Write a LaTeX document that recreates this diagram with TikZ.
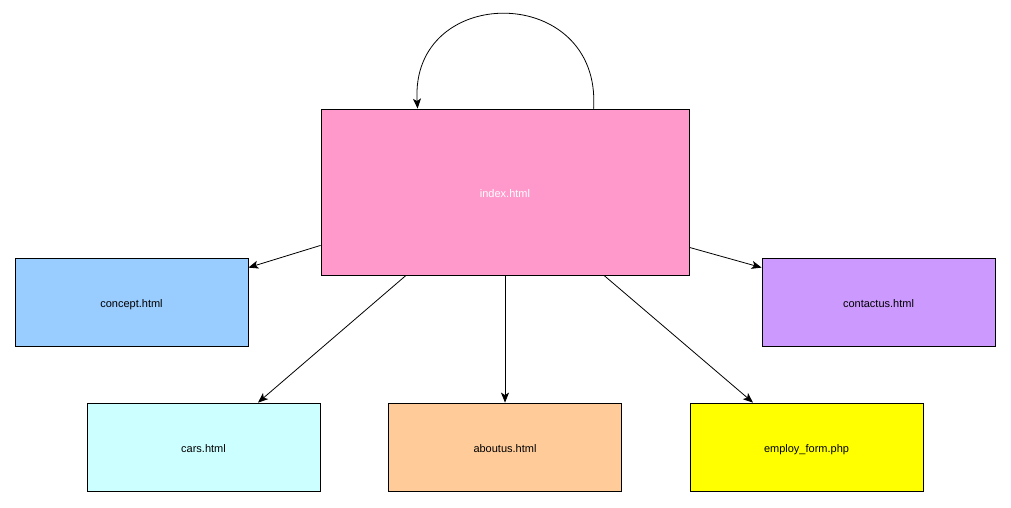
\documentclass[tikz,border=0pt]{standalone}
\usepackage{fontspec}
\setmainfont{Liberation Sans}
\usetikzlibrary{arrows.meta}
\definecolor{pagepink}{HTML}{FF99CC}
\definecolor{pageblue}{HTML}{99CCFF}
\definecolor{pagepurple}{HTML}{CC99FF}
\definecolor{pagecyan}{HTML}{CCFFFF}
\definecolor{pageorange}{HTML}{FFCC99}
\definecolor{pageyellow}{HTML}{FFFF00}
\tikzset{
  page/.style={draw=black, line width=0.8pt, minimum width=233pt, minimum height=88pt,
    inner sep=0pt, text height=10pt, text depth=0pt,
    font=\fontsize{11}{13}\selectfont, text=black},
  link/.style={draw=black, line width=0.8pt, -{Stealth[length=10pt,width=8pt,inset=2.5pt]}}
}
\begin{document}
\begin{tikzpicture}[x=1pt, y=-1pt]
  \useasboundingbox (0,0) rectangle (1011,507);
  % site pages
  \node[page, fill=pagepink, minimum width=368pt, minimum height=166pt, text=white] (index) at (505,192) {index.html};
  \node[page, fill=pageblue] (concept) at (131.5,302) {concept.html};
  \node[page, fill=pagepurple] (contact) at (878.5,302) {contactus.html};
  \node[page, fill=pagecyan] (cars) at (203.5,447) {cars.html};
  \node[page, fill=pageorange] (about) at (505,447) {aboutus.html};
  \node[page, fill=pageyellow] (employ) at (806.5,447) {employ\_form.php};
  % links from the home page
  \draw[link] ([yshift=30pt]index.south west) -- ([yshift=-10pt]concept.north east);
  \draw[link] ([yshift=28pt]index.south east) -- ([yshift=-10pt]contact.north west);
  \draw[link] ([xshift=-99pt]index.south) -- ([xshift=54.5pt]cars.north);
  \draw[link] (index.south) -- (about.north);
  \draw[link] ([xshift=99pt]index.south) -- ([xshift=-53.5pt]employ.north);
  % self link
  \draw[link] ([xshift=273pt]index.north west) .. controls +(8,-126) and +(-8,-126) .. ([xshift=97pt]index.north west);
\end{tikzpicture}
\end{document}
